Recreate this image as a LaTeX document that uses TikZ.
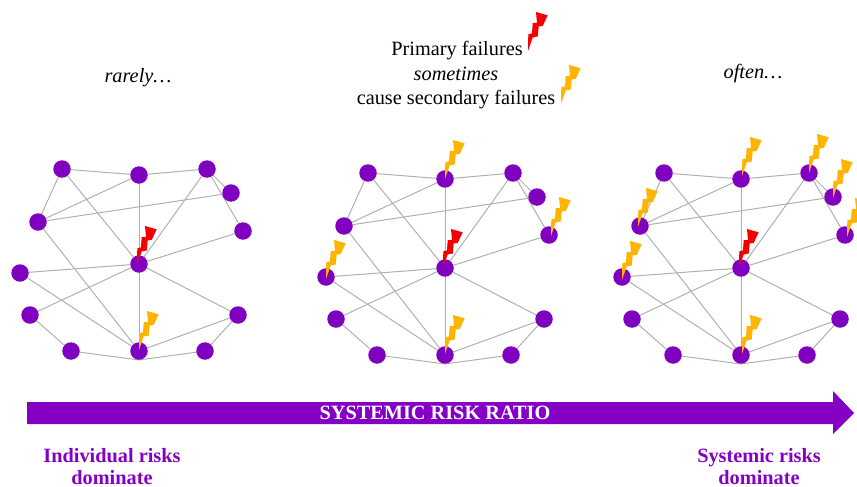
\documentclass[tikz,border=0pt]{standalone}
\usepackage{fontspec}
\setmainfont{Liberation Serif}
\usetikzlibrary{backgrounds}
\definecolor{netpurple}{HTML}{7F00BF}
\definecolor{arrowpurple}{HTML}{8400C4}
\definecolor{edgegray}{HTML}{B0B0B0}
\definecolor{boltred}{HTML}{F50000}
\definecolor{boltamber}{HTML}{FFB400}
\tikzset{
  netnode/.style={circle,fill=netpurple,draw=none,minimum size=17.5pt,inner sep=0pt},
  netedge/.style={draw=edgegray,line width=1pt},
  caption/.style={font=\fontsize{20.3}{20.3}\selectfont,inner sep=0pt,text=black,anchor=base},
  sidecaption/.style={font=\fontsize{20.3}{20.3}\selectfont\bfseries,inner sep=0pt,text=arrowpurple,anchor=base},
}
\newcommand{\boltat}[3]{\fill[#3,shift={(#1,#2)}] (0,0) -- (0.3,-16.7) -- (4,-17.7) -- (4.7,-28) -- (9,-28) -- (8,-39) -- (19.7,-35.7) -- (14.7,-25) -- (10.7,-24.5) -- (9.7,-14.5) -- (4.7,-13.5) -- cycle;}
\newcommand{\netdraw}{%
  \node[netnode] (a) at (62,169) {};
  \node[netnode] (b) at (139,175) {};
  \node[netnode] (c) at (207,169) {};
  \node[netnode] (d) at (231,193) {};
  \node[netnode] (e) at (243,231) {};
  \node[netnode] (f) at (38,222) {};
  \node[netnode] (g) at (139,264) {};
  \node[netnode] (h) at (20,273) {};
  \node[netnode] (i) at (30,315) {};
  \node[netnode] (j) at (71,351) {};
  \node[netnode] (k) at (139,351) {};
  \node[netnode] (l) at (205,351) {};
  \node[netnode] (m) at (238,315) {};
  \begin{scope}[on background layer]
  \foreach \p/\q in {a/b,b/c,c/d,c/e,a/f,f/b,f/d,a/g,b/g,c/g,e/g,h/g,i/g,m/g,g/k,f/k,h/k,i/j,k/m,l/m}
    \draw[netedge] (\p) -- (\q);
  \draw[netedge] (j.center) -- (k.south);
  \draw[netedge] (k.south) -- (l.center);
  \end{scope}
}
\begin{document}
\begin{tikzpicture}[x=1pt,y=-1pt]
\useasboundingbox (0,0) rectangle (857,487);
\begin{scope}[name prefix=one-]
  \netdraw
\end{scope}
\boltat{137}{265}{boltred}
\boltat{139}{350}{boltamber}
\begin{scope}[shift={(306,4)},name prefix=two-]
  \netdraw
\end{scope}
\boltat{443}{268}{boltred}
\boltat{445}{179}{boltamber}
\boltat{326}{279}{boltamber}
\boltat{551}{236}{boltamber}
\boltat{445}{354}{boltamber}
\begin{scope}[shift={(602,4)},name prefix=three-]
  \netdraw
\end{scope}
\boltat{739}{268}{boltred}
\boltat{742}{176}{boltamber}
\boltat{809}{173}{boltamber}
\boltat{833}{198}{boltamber}
\boltat{847}{237}{boltamber}
\boltat{638}{227}{boltamber}
\boltat{622}{280}{boltamber}
\boltat{742}{354}{boltamber}
\boltat{528}{51}{boltred}
\boltat{561}{104}{boltamber}
\node[caption] (rarely) at (138,83) {\itshape rarely…};
\node[caption] (often) at (753,78) {\itshape often…};
\node[caption] (prim) at (457,55.5) {Primary failures};
\node[caption] (some) at (456,80.5) {\itshape sometimes};
\node[caption] (sec) at (456,104.5) {cause secondary failures};
\fill[arrowpurple] (27,402) -- (833,402) -- (833,391) -- (854,413) -- (833,434) -- (833,424) -- (27,424) -- cycle;
\node[sidecaption,text=white] (ratio) at (435,419.5) {SYSTEMIC RISK RATIO};
\node[sidecaption] (ind1) at (112,462) {Individual risks};
\node[sidecaption] (ind2) at (112,484) {dominate};
\node[sidecaption] (sys1) at (759,462) {Systemic risks};
\node[sidecaption] (sys2) at (759,484) {dominate};
\end{tikzpicture}
\end{document}
